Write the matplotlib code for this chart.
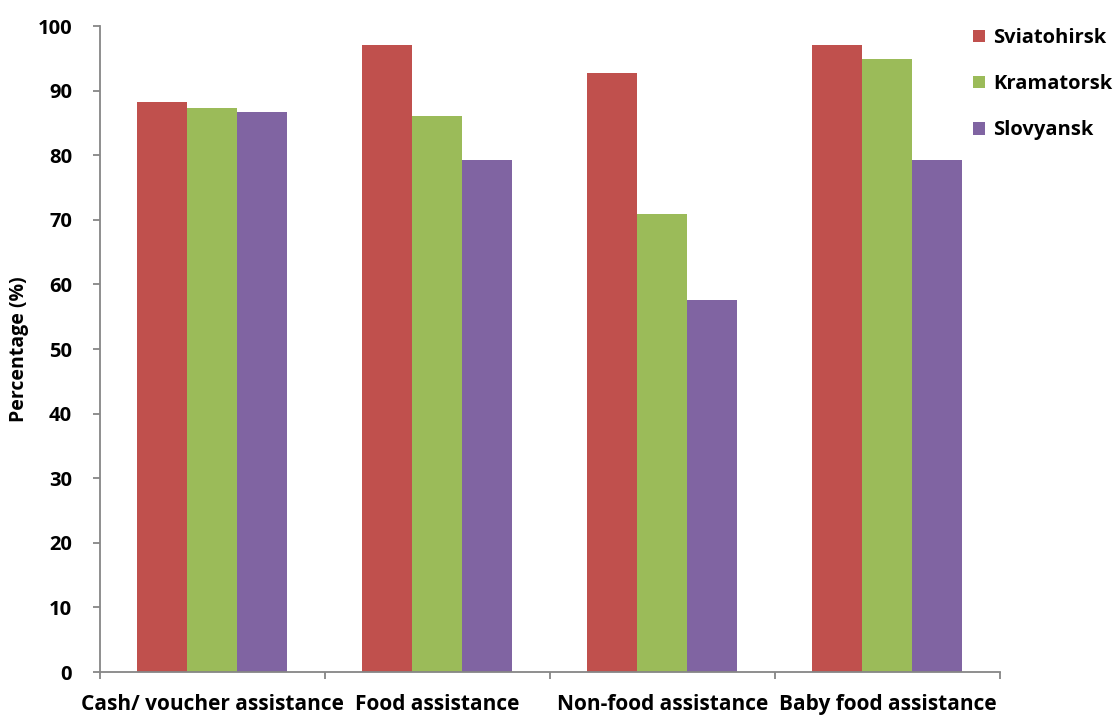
import matplotlib.pyplot as plt
import numpy as np

plt.rcParams['font.family'] = ['Open Sans', 'DejaVu Sans']
plt.rcParams['font.weight'] = 'bold'

categories = ['Cash/ voucher assistance', 'Food assistance',
              'Non-food assistance', 'Baby food assistance']
towns = ['Sviatohirsk', 'Kramatorsk', 'Slovyansk']
sviatohirsk = [88.2, 97.1, 92.7, 97.1]
kramatorsk = [87.3, 86.1, 70.9, 94.9]
slovyansk = [86.7, 79.3, 57.6, 79.3]
colors = ['#C0504D', '#9BBB59', '#8064A2']

fig = plt.figure(figsize=(11.17, 7.15), dpi=100)
ax = fig.add_axes([0.0895, 0.0601, 0.8057, 0.9035])

x = np.arange(len(categories))
w = 2 / 9
for i, (vals, name) in enumerate(zip([sviatohirsk, kramatorsk, slovyansk], towns)):
    ax.bar(x + (i - 1) * w, vals, w, color=colors[i], label=name, zorder=2)

ax.set_xlim(-0.5, len(categories) - 0.5)
ax.set_ylim(0, 100)
ax.set_yticks(np.arange(0, 101, 10))
ax.tick_params(axis='y', labelsize=14.5, length=5, width=1.3, color='#868686', pad=15)
for t in ax.get_yticklabels():
    t.set_fontweight('bold')

# category ticks sit on the group boundaries, labels at group centres
ax.set_xticks(np.arange(-0.5, len(categories)), labels=[''] * (len(categories) + 1))
ax.set_xticks(x, labels=categories, minor=True)
ax.tick_params(axis='x', which='major', length=5, width=1.3, color='#868686')
ax.tick_params(axis='x', which='minor', length=0, labelsize=15, pad=16)
for t in ax.get_xticklabels(minor=True):
    t.set_fontweight('bold')

for s in ['top', 'right']:
    ax.spines[s].set_visible(False)
for s in ['left', 'bottom']:
    ax.spines[s].set_color('#868686')
    ax.spines[s].set_linewidth(1.3)

ax.set_ylabel('Percentage (%)', fontsize=14, fontweight='bold', labelpad=6)

leg = ax.legend(loc='upper left', bbox_to_anchor=(0.95, 1.025), frameon=False,
                prop={'size': 14.5, 'weight': 'bold'}, handlelength=0.6,
                handleheight=0.6, handletextpad=0.4, labelspacing=1.3)

fig.savefig('out.png', dpi=100)
